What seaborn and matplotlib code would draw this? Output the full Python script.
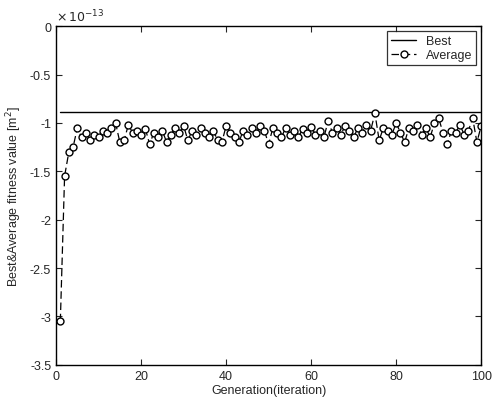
import numpy as np
import pandas as pd
import matplotlib
matplotlib.use("Agg")
import matplotlib.pyplot as plt
import seaborn as sns

# fitness values in units of 1e-13 m^2
generation = list(range(1, 101))
best_value = -0.885
average = [
    -3.05, -1.55, -1.30, -1.25, -1.05, -1.15, -1.10, -1.18, -1.12, -1.15,
    -1.08, -1.10, -1.05, -1.00, -1.20, -1.18, -1.02, -1.10, -1.08, -1.12,
    -1.06, -1.22, -1.10, -1.15, -1.08, -1.20, -1.12, -1.05, -1.10, -1.03,
    -1.18, -1.08, -1.12, -1.05, -1.10, -1.15, -1.08, -1.18, -1.20, -1.03,
    -1.10, -1.15, -1.20, -1.08, -1.12, -1.05, -1.10, -1.03, -1.08, -1.22,
    -1.05, -1.10, -1.15, -1.05, -1.12, -1.08, -1.15, -1.06, -1.10, -1.04,
    -1.12, -1.08, -1.15, -0.98, -1.10, -1.05, -1.12, -1.03, -1.08, -1.15,
    -1.05, -1.10, -1.02, -1.08, -0.90, -1.18, -1.05, -1.08, -1.12, -1.00,
    -1.10, -1.20, -1.05, -1.08, -1.02, -1.12, -1.05, -1.15, -1.00, -0.95,
    -1.10, -1.22, -1.08, -1.10, -1.02, -1.12, -1.08, -0.95, -1.20, -1.03,
]

df = pd.DataFrame({"gen": generation, "avg": average,
                   "best": [best_value] * len(generation)})

sns.set_style("ticks")
plt.rcParams["font.family"] = ["Liberation Sans", "DejaVu Sans"]
plt.rcParams["xtick.direction"] = "in"
plt.rcParams["ytick.direction"] = "in"

fig = plt.figure(figsize=(4.92, 4.06), dpi=100)
ax = fig.add_axes([0.114, 0.099, 0.864, 0.834])

sns.lineplot(data=df, x="gen", y="best", ax=ax, color="black", lw=1.0,
             label="Best")
sns.lineplot(data=df, x="gen", y="avg", ax=ax, color="black", lw=0.9,
             linestyle=(0, (6, 3)), marker="o", markersize=5,
             markerfacecolor="white", markeredgecolor="black",
             markeredgewidth=1.0, label="Average")

ax.set_xlim(0, 100)
ax.set_ylim(-3.5, 0)
ax.set_xticks([0, 20, 40, 60, 80, 100])
ax.set_yticks([0, -0.5, -1, -1.5, -2, -2.5, -3, -3.5])
ax.set_yticklabels(["0", "-0.5", "-1", "-1.5", "-2", "-2.5", "-3", "-3.5"])
ax.tick_params(labelsize=9, top=True, right=True, length=4, width=0.8)
for s in ax.spines.values():
    s.set_visible(True)
    s.set_color("black")
    s.set_linewidth(1.0)

ax.set_xlabel("Generation(iteration)", fontsize=9, labelpad=2)
ax.set_ylabel("Best&Average fitness value [m$^2$]", fontsize=9, labelpad=4)
ax.text(0.0, 1.005, r"$\times\,10^{-13}$", transform=ax.transAxes,
        fontsize=9, ha="left", va="bottom")

leg = ax.legend(loc="upper right", fontsize=9, frameon=True, fancybox=False,
                borderaxespad=0.4, handlelength=2.0, borderpad=0.3,
                labelspacing=0.2)
leg.get_frame().set_edgecolor("black")
leg.get_frame().set_linewidth(0.9)

fig.savefig("out.png", dpi=100)
